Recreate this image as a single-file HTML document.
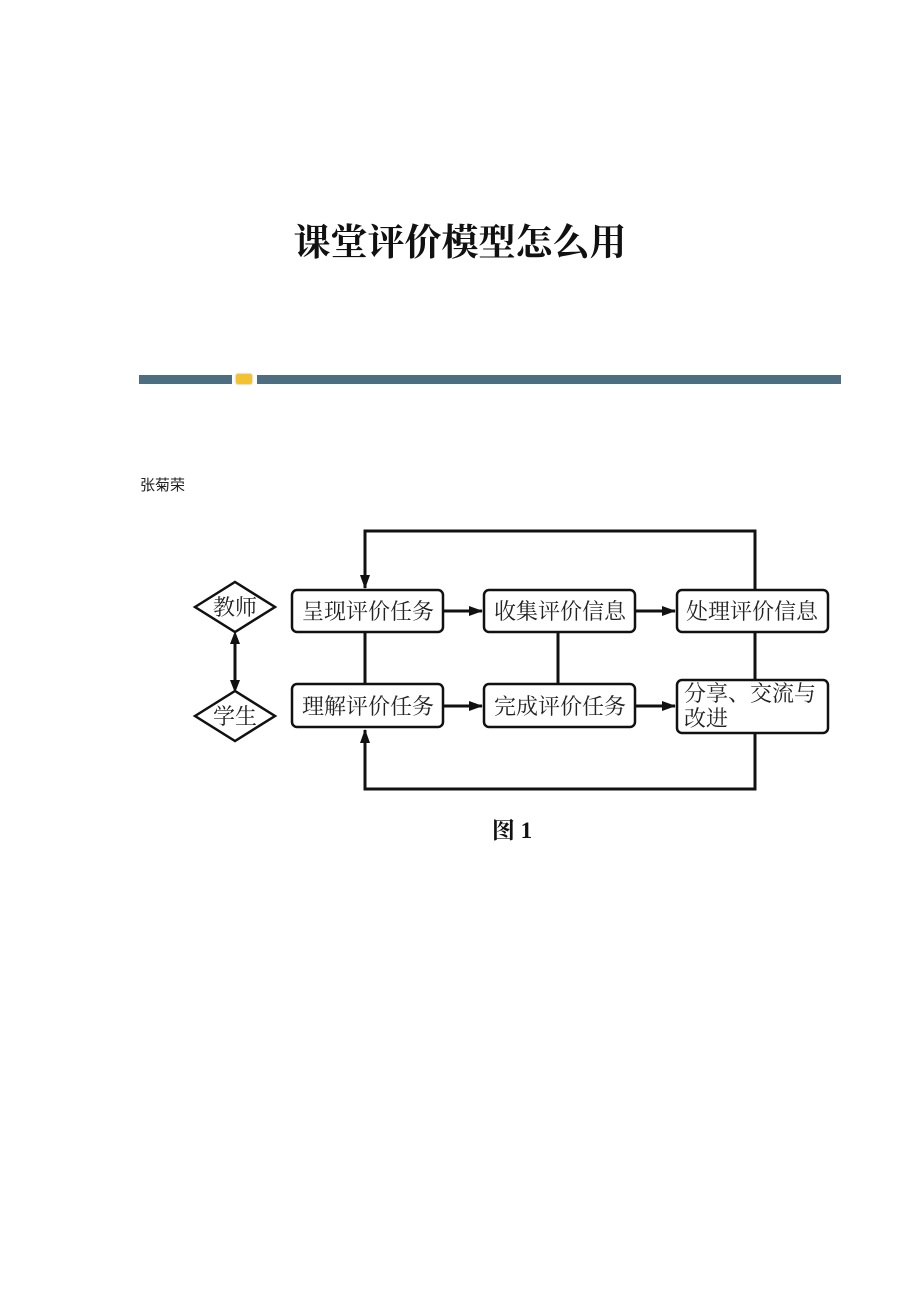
<!DOCTYPE html>
<html><head><meta charset="utf-8"><style>
body{margin:0;width:920px;height:1302px;background:#fff;position:relative;overflow:hidden}
.t{position:absolute;white-space:nowrap}
</style></head><body>
<div class="t" style="left:0;width:920px;text-align:center;top:212px;font-size:37px;font-family:'Liberation Serif','Noto Serif CJK SC',serif;font-weight:bold;color:#111">课堂评价模型怎么用</div>
<div style="position:absolute;left:139px;top:375px;width:93px;height:9px;background:#4f6d80"></div>
<div style="position:absolute;left:236px;top:374px;width:16px;height:10px;background:#f2c230;border-radius:2px;box-shadow:0 0 2px #aa8"></div>
<div style="position:absolute;left:257px;top:375px;width:584px;height:9px;background:#4f6d80"></div>
<div class="t" style="left:140px;top:474px;font-size:15px;font-family:'Liberation Sans','Noto Sans CJK SC',sans-serif;color:#222">张菊荣</div>
<svg width="920" height="1302" style="position:absolute;left:0;top:0" font-family="'Liberation Serif','Noto Serif CJK SC',serif">
<defs><marker id="a" markerWidth="14" markerHeight="10" refX="13" refY="5" orient="auto" markerUnits="userSpaceOnUse"><path d="M0,0L14,5L0,10z" fill="#111"/></marker></defs>
<g stroke="#111" stroke-width="3" fill="none">
<path d="M755,590V531H365V588" marker-end="url(#a)"/>
<path d="M755,733V789H365V730" marker-end="url(#a)"/>
<path d="M365,632V684M558,632V684M755,632V680"/>
<path d="M443,611H482" marker-end="url(#a)"/>
<path d="M635,611H675" marker-end="url(#a)"/>
<path d="M443,706H482" marker-end="url(#a)"/>
<path d="M635,706H675" marker-end="url(#a)"/>
<path d="M235,640V684"/>
</g>
<path d="M235,631l-5,13h10z M235,693l-5,-13h10z" fill="#111"/>
<g stroke="#111" stroke-width="2.5" fill="#fff">
<rect x="292" y="590" width="151" height="42" rx="5"/>
<rect x="484" y="590" width="151" height="42" rx="5"/>
<rect x="677" y="590" width="151" height="42" rx="5"/>
<rect x="292" y="684" width="151" height="43" rx="5"/>
<rect x="484" y="684" width="151" height="43" rx="5"/>
<rect x="677" y="680" width="151" height="53" rx="5"/>
<path d="M195,607L235,582L275,607L235,632z"/>
<path d="M195,716L235,691L275,716L235,741z"/>
</g>
<g font-size="22" fill="#222" text-anchor="middle">
<text x="368" y="619">呈现评价任务</text>
<text x="560" y="619">收集评价信息</text>
<text x="752" y="619">处理评价信息</text>
<text x="368" y="714">理解评价任务</text>
<text x="560" y="714">完成评价任务</text>
<text x="235" y="615">教师</text>
<text x="235" y="724">学生</text>
<text x="684" y="701" text-anchor="start">分享、交流与</text>
<text x="684" y="726" text-anchor="start">改进</text>
</g>
<text x="512" y="838" font-size="23" font-weight="bold" text-anchor="middle" fill="#111">图 1</text>
</svg>
</body></html>
